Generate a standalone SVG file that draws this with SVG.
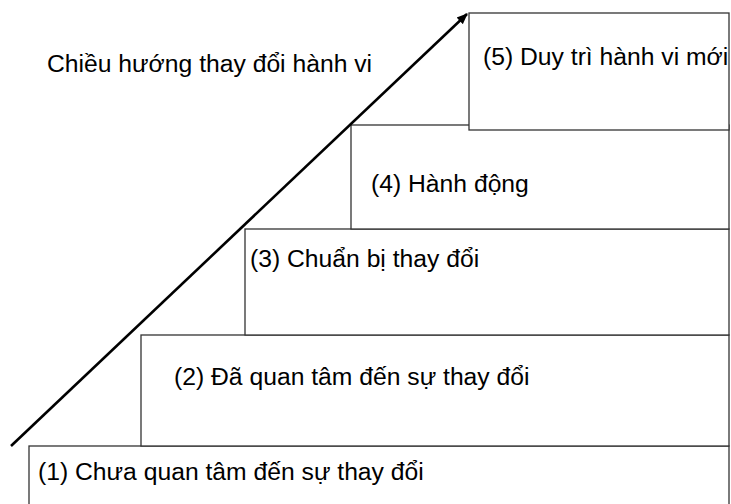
<svg xmlns="http://www.w3.org/2000/svg" width="731" height="504" viewBox="0 0 731 504">
<defs>
<style>
.box{fill:#fff;stroke:#333;stroke-width:1.3}
.lbl{font-family:"Liberation Sans",Arial,sans-serif;font-size:24.7px;fill:#000}
.arr{stroke:#000;stroke-width:2.6;fill:none}
</style>
<marker id="ah" markerUnits="userSpaceOnUse" markerWidth="12" markerHeight="12" viewBox="0 0 12 12" refX="10" refY="6" orient="auto">
<path d="M0,1.5 L11,6 L0,10.5 Z" fill="#000"/>
</marker>
</defs>
<rect width="731" height="504" fill="#fff"/>
<g id="step1"><rect class="box" x="29" y="446" width="700" height="70"/><text class="lbl" x="38" y="480">(1) Chưa quan tâm đến sự thay đổi</text></g>
<g id="step2"><rect class="box" x="141" y="335" width="588" height="111"/><text class="lbl" x="174" y="385">(2) Đã quan tâm đến sự thay đổi</text></g>
<g id="step3"><rect class="box" x="245" y="229" width="484" height="106"/><text class="lbl" x="250" y="267">(3) Chuẩn bị thay đổi</text></g>
<g id="step4"><rect class="box" x="351" y="125" width="378" height="104"/><text class="lbl" x="371" y="192">(4) Hành động</text></g>
<g id="step5"><rect class="box" x="469" y="13" width="260" height="117"/><text class="lbl" x="483" y="65">(5) Duy trì hành vi mới</text></g>
<g id="connectors"><line class="arr" x1="11" y1="446" x2="467" y2="14" marker-end="url(#ah)"/></g>
<text class="lbl" x="47" y="72">Chiều hướng thay đổi hành vi</text>
</svg>
